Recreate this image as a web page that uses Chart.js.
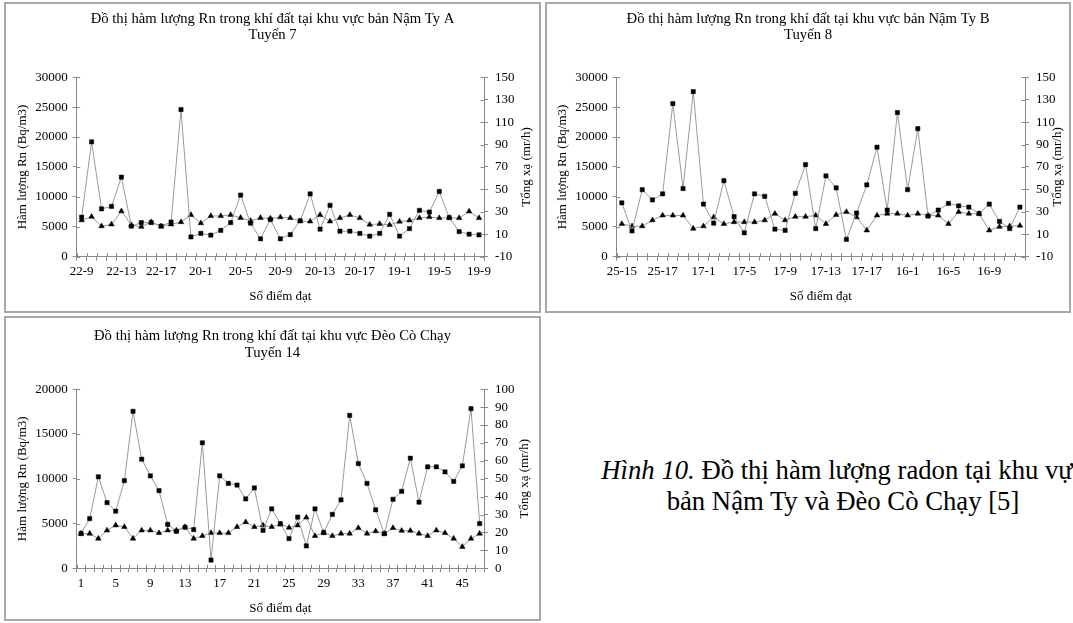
<!DOCTYPE html>
<html><head><meta charset="utf-8">
<script src="https://cdn.jsdelivr.net/npm/chart.js@4.4.0/dist/chart.umd.min.js"></script>
<style>
html,body{margin:0;padding:0;background:#fff;width:1073px;height:623px;overflow:hidden;position:relative;font-family:'Liberation Serif','Times New Roman',serif;}
.panel{position:absolute;border:2px solid #a8a8a8;box-sizing:border-box;}
canvas{position:absolute;}
#cap{position:absolute;left:543px;width:600px;top:455px;text-align:center;font-size:26.7px;line-height:31px;color:#000;white-space:nowrap;}
</style></head>
<body>
<div class="panel" style="left:4px;top:2px;width:537px;height:311px"></div>
<div class="panel" style="left:545px;top:2px;width:526px;height:311px"></div>
<div class="panel" style="left:4px;top:316px;width:537px;height:305px"></div>
<canvas id="c1" width="533" height="307" style="left:6px;top:4px"></canvas>
<canvas id="c2" width="522" height="307" style="left:547px;top:4px"></canvas>
<canvas id="c3" width="533" height="301" style="left:6px;top:318px"></canvas>
<div id="cap"><i>Hình 10.</i> Đồ thị hàm lượng radon tại khu vực<br>bản Nậm Ty và Đèo Cò Chạy [5]</div>
<script>
// ---------- DATA ----------
const labels1 = [
  "22-9","22-10","22-11","22-12","22-13","22-14","22-15","22-16","22-17","22-18","22-19","22-20",
  "20-1","20-2","20-3","20-4","20-5","20-6","20-7","20-8","20-9","20-10","20-11","20-12","20-13","20-14","20-15","20-16","20-17","20-18","20-19","20-20",
  "19-1","19-2","19-3","19-4","19-5","19-6","19-7","19-8","19-9"];
const rn1 = [6600,19200,8000,8400,13300,5100,5700,5700,5100,5800,24600,3300,3900,3600,4400,5700,10300,5600,3000,6200,
  3000,3700,6000,10500,4600,8600,4260,4260,3880,3430,3880,7080,3430,4700,7750,7470,10900,6530,4200,3760,3650];
const gamma1 = [22.5,25.7,17.2,18.8,30.5,18.3,16.7,20.9,17.2,18.8,20.9,27.3,19.9,26.3,26.3,27.3,24.7,22.0,24.7,24.1,
  25.2,24.5,21.8,21.5,27.3,21.5,24.5,27.3,24.5,18.6,19.3,18.3,21.3,22.4,24.5,25.4,24.5,24.8,24.5,30.4,24.5];

const labels2 = [
  "25-15","25-15a","25-16","25-16a","25-17","25-18","25-19","25-20",
  "17-1","17-2","17-3","17-4","17-5","17-6","17-7","17-8","17-9","17-10","17-11","17-12","17-13","17-14","17-15","17-16","17-17","17-18","17-19","17-20",
  "16-1","16-2","16-3","16-4","16-5","16-6","16-7","16-8","16-9","16-10","16-11","16-12"];
const rn2 = [9000,4300,11200,9500,10500,25600,11400,27600,8800,5600,12700,6700,4000,10500,10100,4600,4400,10600,15400,4700,
  13500,11500,2900,7300,12000,18300,7800,24100,11200,21400,6800,7800,8900,8500,8300,7200,8800,5900,4700,8300];
const gamma2 = [19.3,17.2,17.2,22.5,26.8,26.8,26.8,15.1,17.2,25.2,19.3,20.9,20.9,20.9,22.5,28.4,22.5,25.7,25.7,26.8,
  19.3,27.3,30.0,25.2,13.5,26.8,28.4,28.4,26.8,28.4,26.8,26.8,19.3,30.0,28.4,28.4,13.5,16.7,17.2,17.7];

const labels3 = ["1","2","3","4","5","6","7","8","9","10","11","12","13","14","15","16","17","18","19","20",
  "21","22","23","24","25","26","27","28","29","30","31","32","33","34","35","36","37","38","39","40",
  "41","42","43","44","45","46","47"];
const rn3 = [3880,5540,10220,7340,6380,9780,17530,12180,10330,8670,4910,4130,4580,4320,14020,920,10330,9480,9300,7750,
  8970,4240,6640,4980,3320,5720,2500,6640,3990,6020,7640,17080,11700,9480,6530,3870,7710,8600,12290,7380,
  11330,11330,10770,9700,11440,17820,5000];
const gamma3 = [19.4,19.4,16.6,21.2,24.0,23.1,16.6,21.2,21.2,19.7,21.2,21.2,23.1,16.6,18.1,19.7,19.7,19.7,23.1,25.8,
  23.1,24.0,23.1,24.5,22.7,24.0,28.4,18.1,19.9,18.1,19.4,19.4,22.5,19.4,20.7,19.4,22.5,21.0,21.0,19.4,
  18.1,21.2,19.7,16.6,12.0,16.6,19.4];

const title1 = ["Đồ thị hàm lượng Rn trong khí đất tại khu vực bản Nậm Ty A", "Tuyến 7"];
const title2 = ["Đồ thị hàm lượng Rn trong khí đất tại khu vực bản Nậm Ty B", "Tuyến 8"];
const title3 = ["Đồ thị hàm lượng Rn trong khí đất tại khu vực Đèo Cò Chạy", "Tuyến 14"];
const xTitle = "Số điểm đạt";
const yTitle = "Hàm lượng Rn (Bq/m3)";
const y1Title = "Tổng xạ (mr/h)";

// ---------- STYLE ----------
const FONT = "'Liberation Serif','Times New Roman',serif";
Chart.defaults.font.family = FONT;
Chart.defaults.color = '#000';
const AX = '#8a8a8a';
const LINE = '#9a9a9a';

const rightTitlePlugin = {
  id: 'rightTitle',
  afterDraw(chart, args, opts) {
    const {ctx, chartArea} = chart;
    ctx.save();
    ctx.font = "13px " + FONT;
    ctx.fillStyle = '#000';
    ctx.textAlign = 'center';
    ctx.textBaseline = 'middle';
    ctx.translate(opts.x, (chartArea.top + chartArea.bottom) / 2);
    ctx.rotate(-Math.PI / 2);
    ctx.fillText(opts.text, 0, 0);
    ctx.restore();
  }
};

// inner half of the tick marks (ticks cross the axis lines)
const innerTicksPlugin = {
  id: 'innerTicks',
  afterDraw(chart) {
    const {ctx, chartArea, scales} = chart;
    const L = 3.5;
    ctx.save();
    ctx.strokeStyle = AX;
    ctx.lineWidth = 1;
    ctx.beginPath();
    const xs = scales.x;
    const n = chart.data.labels.length;
    for (let i = 0; i <= n; i++) {
      const px = Math.round(xs.getPixelForValue(i - 0.5)) + 0.5;
      ctx.moveTo(px, chartArea.bottom);
      ctx.lineTo(px, chartArea.bottom - L);
    }
    scales.y.ticks.forEach(t => {
      const py = Math.round(scales.y.getPixelForValue(t.value)) + 0.5;
      ctx.moveTo(chartArea.left, py);
      ctx.lineTo(chartArea.left + L, py);
    });
    scales.y1.ticks.forEach(t => {
      const py = Math.round(scales.y1.getPixelForValue(t.value)) + 0.5;
      ctx.moveTo(chartArea.right, py);
      ctx.lineTo(chartArea.right - L, py);
    });
    ctx.stroke();
    ctx.restore();
  }
};

function makeChart(id, c) {
  return new Chart(document.getElementById(id), {
    type: 'line',
    data: {
      labels: c.labels,
      datasets: [
        {data: c.rn, yAxisID: 'y', borderColor: LINE, borderWidth: 1, pointStyle: 'rect', pointRadius: 3,
         pointBackgroundColor: '#000', pointBorderColor: '#000', pointBorderWidth: 0.5, tension: 0},
        {data: c.gamma, yAxisID: 'y1', borderColor: LINE, borderWidth: 1, pointStyle: 'triangle', pointRadius: 3.2,
         pointBackgroundColor: '#000', pointBorderColor: '#000', pointBorderWidth: 0.5, tension: 0}
      ]
    },
    options: {
      responsive: false, animation: false, events: [],
      layout: {padding: 0},
      plugins: {
        legend: {display: false}, tooltip: {enabled: false},
        title: {display: true, text: c.title, color: '#000', font: {size: 14.7, weight: 'normal', lineHeight: c.tLH},
                padding: {top: c.tTop, bottom: c.tBot}},
        rightTitle: {text: y1Title, x: c.rtX}
      },
      scales: {
        x: {
          type: 'category', offset: true,
          grid: {offset: true, drawOnChartArea: false, drawTicks: true, tickLength: 4, color: AX},
          border: {color: AX},
          ticks: {autoSkip: false, maxRotation: 0, minRotation: 0, padding: 3, font: {size: 13},
                  callback: (v, i) => (i % 4 === 0 ? c.labels[i] : '')},
          title: {display: true, text: xTitle, font: {size: 13}, padding: {top: 0, bottom: c.xtPad}},
          afterFit: s => { s.height = c.xH; }
        },
        y: {
          position: 'left', min: c.yMin, max: c.yMax,
          ticks: {stepSize: c.yStep, autoSkip: false, font: {size: 13}, padding: 5, callback: v => String(v)},
          grid: {drawOnChartArea: false, tickLength: 4, color: AX},
          border: {color: AX},
          title: {display: true, text: yTitle, font: {size: 13}, padding: {top: c.ytPad, bottom: 0}},
          afterFit: s => { s.width = c.yW; }
        },
        y1: {
          position: 'right', min: c.y1Min, max: c.y1Max,
          ticks: {stepSize: c.y1Step, autoSkip: false, font: {size: 13}, padding: 7, callback: v => String(v)},
          grid: {drawOnChartArea: false, tickLength: 4, color: AX},
          border: {color: AX},
          afterFit: s => { s.width = c.y1W; }
        }
      }
    },
    plugins: [rightTitlePlugin, innerTicksPlugin]
  });
}

makeChart('c1', {labels: labels1, rn: rn1, gamma: gamma1, title: title1,
  tLH: 1.1, tTop: 7.3, tBot: 33.6, xH: 54.3, xtPad: 6.2, yW: 70.7, y1W: 55, ytPad: 9.2, rtX: 521,
  yMin: 0, yMax: 30000, yStep: 5000, y1Min: -10, y1Max: 150, y1Step: 20});
makeChart('c2', {labels: labels2, rn: rn2, gamma: gamma2, title: title2,
  tLH: 1.1, tTop: 7.3, tBot: 33.6, xH: 54.3, xtPad: 6.2, yW: 69.7, y1W: 44, ytPad: 8.2, rtX: 511,
  yMin: 0, yMax: 30000, yStep: 5000, y1Min: -10, y1Max: 150, y1Step: 20});
makeChart('c3', {labels: labels3, rn: rn3, gamma: gamma3, title: title3,
  tLH: 1.143, tTop: 10, tBot: 27.6, xH: 50.7, xtPad: 2.2, yW: 70.7, y1W: 55, ytPad: 9.2, rtX: 519,
  yMin: 0, yMax: 20000, yStep: 5000, y1Min: 0, y1Max: 100, y1Step: 10});
</script>
</body></html>
